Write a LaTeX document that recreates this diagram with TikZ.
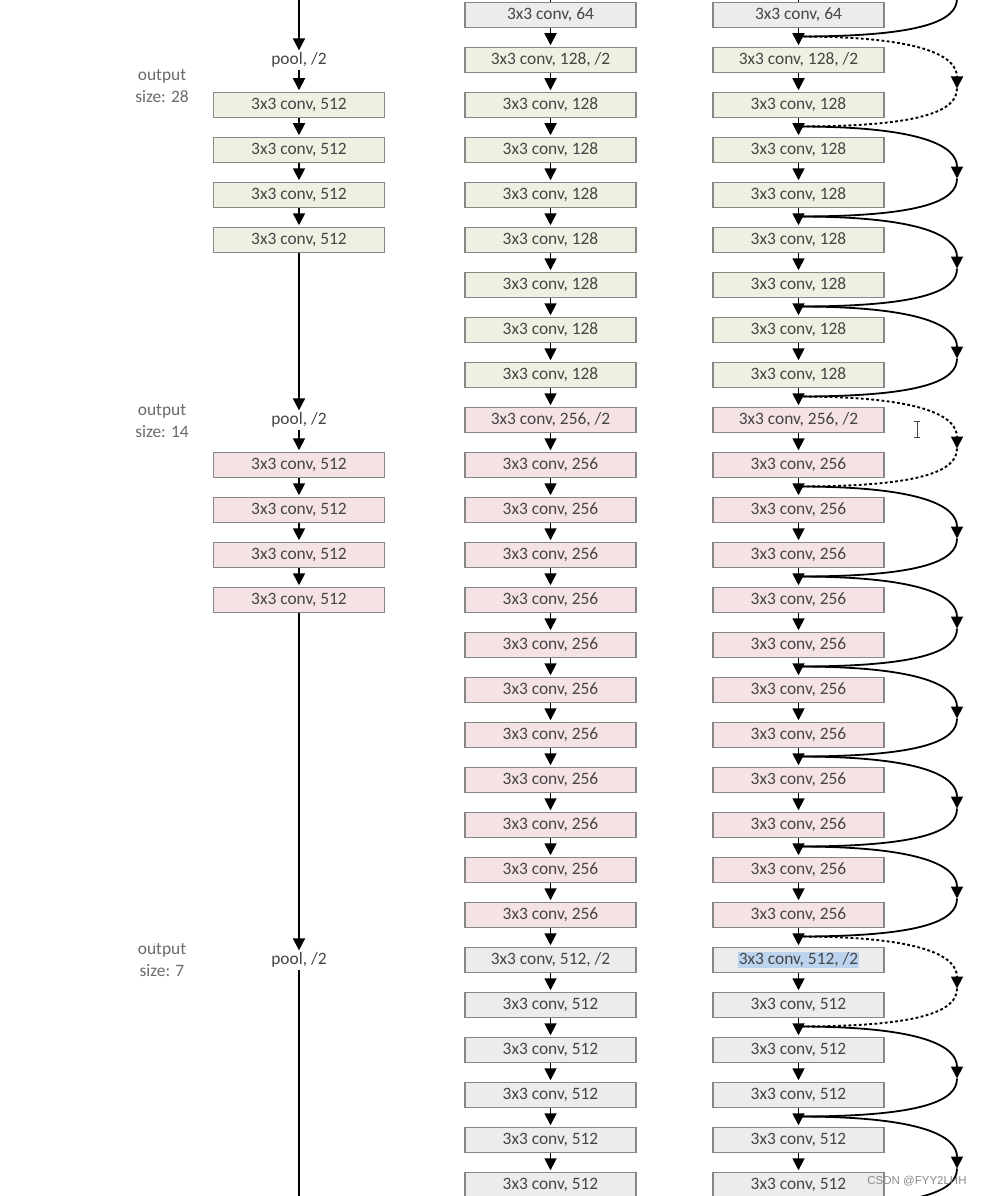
\documentclass[tikz,border=0pt]{standalone}
\usepackage{fontspec}
\setmainfont{Carlito}
\newfontfamily\wmfont{Liberation Sans}
\usetikzlibrary{arrows.meta}
\definecolor{boxdraw}{HTML}{878787}
\definecolor{txt}{HTML}{454545}
\definecolor{fgray}{HTML}{ECECEC}
\definecolor{fgreen}{HTML}{EEF1E2}
\definecolor{fpink}{HTML}{F5E2E5}
\definecolor{hlblue}{HTML}{BCD3EE}
\definecolor{lbl}{HTML}{6A6A6A}
\definecolor{wmgray}{HTML}{8A8A8A}
\setlength{\fboxsep}{1pt}
\newcommand\crow[3]{%
  \node[cbox,fill=#3] (m#1) at (550.5,{15+45*#1}) {#2};
  \node[cbox,fill=#3] (r#1) at (798.5,{15+45*#1}) {#2};
}
\begin{document}
\begin{tikzpicture}[x=1pt,y=-1pt,
  cbox/.style={draw=boxdraw,line width=1.5pt,minimum width=171pt,minimum height=25pt,
    inner sep=0pt,text=txt,font=\fontsize{17.4}{20}\selectfont},
  pooltxt/.style={inner sep=2pt,text=txt,font=\fontsize{17.4}{20}\selectfont},
  outl/.style={align=center,text=lbl,font=\fontsize{17.4}{22}\selectfont},
  arr/.style={line width=1.8pt,-{Triangle[length=12pt,width=12pt]}},
  ln/.style={line width=1.8pt},
  sc/.style={line width=1.8pt},
  scdot/.style={line width=1.9pt,dash pattern=on 2.8pt off 2.4pt},
  tipa/.style={-{Triangle[length=12pt,width=12pt]}}
]
\useasboundingbox (0,0) rectangle (982,1196);
\fill[white] (0,0) rectangle (982,1196);
\clip (0,0) rectangle (982,1196);

% ---------- middle and right columns ----------
\crow{0}{3x3 conv, 64}{fgray}
\crow{1}{3x3 conv, 128, /2}{fgreen}
\foreach \i in {2,...,8} {\crow{\i}{3x3 conv, 128}{fgreen}}
\crow{9}{3x3 conv, 256, /2}{fpink}
\foreach \i in {10,...,20} {\crow{\i}{3x3 conv, 256}{fpink}}
\node[cbox,fill=fgray] (m21) at (550.5,960) {3x3 conv, 512, /2};
\node[cbox,fill=fgray] (r21) at (798.5,960) {\colorbox{hlblue}{3x3 conv, 512, /2}};
\foreach \i in {22,...,26} {\crow{\i}{3x3 conv, 512}{fgray}}

\draw[ln] (m0.north) -- ++(0,-10);
\draw[ln] (r0.north) -- ++(0,-10);
\foreach \i [evaluate=\i as \n using int(\i+1)] in {0,...,25} {
  \draw[arr] (m\i.south) -- ([yshift=1.5pt]m\n.north);
  \draw[arr] (r\i.south) -- ([yshift=1.5pt]r\n.north);
}
\draw[ln] (m26.south) -- ++(0,10);
\draw[ln] (r26.south) -- ++(0,10);

% ---------- shortcuts ----------
\foreach \k in {0,...,14} {
  \coordinate (j\k) at (798.5,{-53.5+90*\k});
  \coordinate (t\k) at (957,{-53.5+90*\k+52});
}
\foreach \k [evaluate=\k as \n using int(\k+1)] in {0,2,3,4,6,7,8,9,10,12,13} {
  \draw[sc,tipa] (j\k) .. controls +(125,0) and +(0,-32) .. (t\k);
  \draw[sc] (t\k) .. controls +(0,22) and +(125,0) .. (j\n);
}
\foreach \k [evaluate=\k as \n using int(\k+1)] in {1,5,11} {
  \draw[scdot,tipa] (j\k) .. controls +(125,0) and +(0,-32) .. (t\k);
  \draw[scdot] (t\k) .. controls +(0,22) and +(125,0) .. (j\n);
}

% ---------- left column ----------
\coordinate (Ltop) at (299,-10);
\node[pooltxt] (P1) at (299,60) {pool, /2};
\foreach \i in {2,...,5} {\node[cbox,fill=fgreen] (L\i) at (299,{15+45*\i}) {3x3 conv, 512};}
\node[pooltxt] (P9) at (299,420) {pool, /2};
\foreach \i in {10,...,13} {\node[cbox,fill=fpink] (L\i) at (299,{15+45*\i}) {3x3 conv, 512};}
\node[pooltxt] (P21) at (299,960) {pool, /2};
\coordinate (Lbot) at (299,1210);

\draw[arr] (Ltop) -- (P1.north);
\draw[arr] (P1.south) -- ([yshift=1.5pt]L2.north);
\foreach \i [evaluate=\i as \n using int(\i+1)] in {2,3,4} {\draw[arr] (L\i.south) -- ([yshift=1.5pt]L\n.north);}
\draw[arr] (L5.south) -- (P9.north);
\draw[arr] (P9.south) -- ([yshift=1.5pt]L10.north);
\foreach \i [evaluate=\i as \n using int(\i+1)] in {10,11,12} {\draw[arr] (L\i.south) -- ([yshift=1.5pt]L\n.north);}
\draw[arr] (L13.south) -- (P21.north);
\draw[ln] (P21.south) -- (Lbot);

\node[outl] (o28) at (162,86) {output\\size: 28};
\node[outl] (o14) at (162,421) {output\\size: 14};
\node[outl] (o7) at (162,960) {output\\size: 7};

% ---------- cursor and watermark ----------
\draw[line width=0.9pt,draw=txt] (917,421) -- (917,437)
  (914,421) -- (920,421) (914,437) -- (920,437);
\node[font=\wmfont\fontsize{11.5}{13}\selectfont,text=wmgray] (wm) at (917,1181) {CSDN @FYY2LHH};
\end{tikzpicture}
\end{document}
